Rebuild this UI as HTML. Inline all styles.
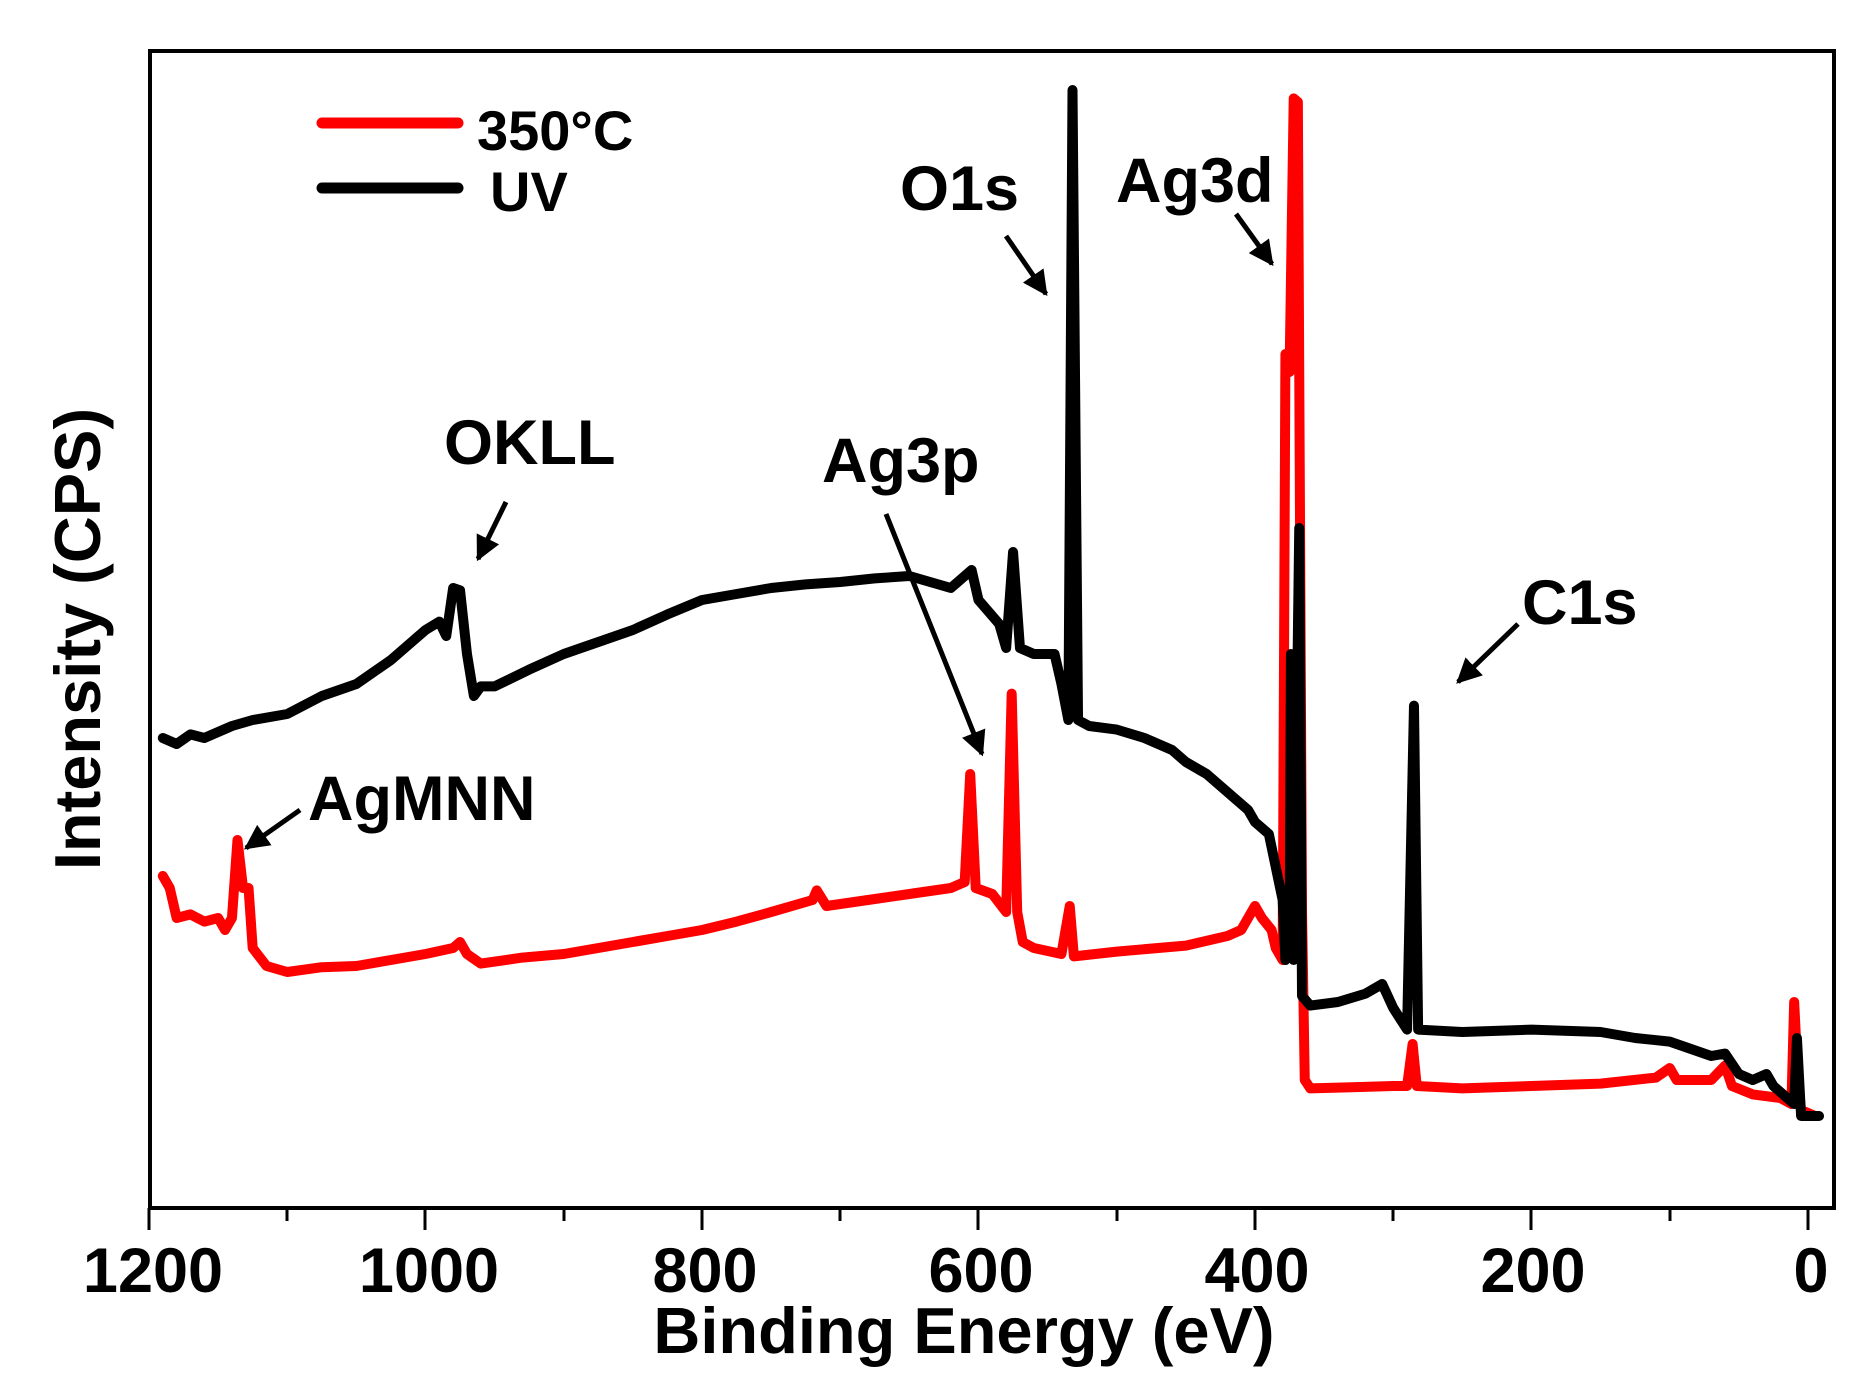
<!DOCTYPE html>
<html><head><meta charset="utf-8"><style>
html,body{margin:0;padding:0;background:#fff;}
svg text{font-family:"Liberation Sans",Arial,sans-serif;font-weight:bold;fill:#000;}
</style></head><body>
<svg width="1871" height="1384" viewBox="0 0 1871 1384" xmlns="http://www.w3.org/2000/svg">
<rect width="1871" height="1384" fill="#fff"/>
<g transform="translate(1808,0) scale(-1.3825,1.2)" fill="none" stroke-linejoin="round" stroke-linecap="round">
<polyline vector-effect="non-scaling-stroke" stroke="#ff0000" stroke-width="10" points="1190,730 1185,740 1180,765 1170,762 1160,768 1150,765 1145,775 1140,765 1136,700 1132,740 1128,740 1125,790 1115,805 1100,810 1075,806 1050,805 1025,800 1000,795 980,790 975,785 970,795 960,803 930,798 900,795 875,790 850,785 825,780 800,775 775,768 750,760 720,750 717,742 710,755 680,750 650,745 620,740 610,735 606,645 602,740 590,745 580,760 576,578 572,760 568,785 560,790 540,795 534,755 531,797 500,793 450,788 420,780 410,775 400,755 395,765 388,775 385,790 380,800 378,295 375,310 372,82 369,85 366,760 364,900 360,907 330,906 300,905 290,905 286,870 283,905 250,907 200,905 150,903 110,898 100,890 95,900 70,900 60,888 55,905 40,912 20,915 12,920 10,835 7,905 5,925 -5,930"/>
<polyline vector-effect="non-scaling-stroke" stroke="#000" stroke-width="10" points="1190,615 1180,620 1170,612 1160,615 1150,610 1140,605 1125,600 1100,595 1075,580 1050,570 1025,550 1010,535 1000,525 990,518 985,530 980,490 975,492 970,545 965,580 960,572 950,572 925,558 900,545 875,535 850,525 825,512 800,500 775,495 750,490 725,487 700,485 675,482 650,480 620,490 605,475 600,500 585,520 580,540 575,460 570,540 560,545 545,545 540,570 535,600 532,75 528,600 520,605 500,608 480,615 460,625 450,635 435,645 420,660 405,675 400,685 390,695 380,750 378,800 375,790 374,545 372,800 368,440 366,830 360,838 340,835 320,828 308,820 300,840 290,858 285,588 282,858 250,860 200,858 150,860 125,865 100,868 70,880 60,878 50,895 40,900 30,895 25,905 15,915 10,920 8,865 5,930 -8,930"/>
</g>
<rect x="150" y="51" width="1684" height="1157" fill="none" stroke="#000" stroke-width="4"/>
<g stroke="#000" stroke-width="3">
<line x1="149" y1="1208" x2="149" y2="1230"/><line x1="425" y1="1208" x2="425" y2="1230"/>
<line x1="702" y1="1208" x2="702" y2="1230"/><line x1="978" y1="1208" x2="978" y2="1230"/>
<line x1="1255" y1="1208" x2="1255" y2="1230"/><line x1="1531" y1="1208" x2="1531" y2="1230"/>
<line x1="1808" y1="1208" x2="1808" y2="1230"/>
<line x1="287" y1="1208" x2="287" y2="1221"/><line x1="564" y1="1208" x2="564" y2="1221"/>
<line x1="840" y1="1208" x2="840" y2="1221"/><line x1="1117" y1="1208" x2="1117" y2="1221"/>
<line x1="1393" y1="1208" x2="1393" y2="1221"/><line x1="1670" y1="1208" x2="1670" y2="1221"/>
</g>
<g font-size="63" text-anchor="middle">
<text x="153" y="1292">1200</text><text x="429" y="1292">1000</text><text x="705" y="1292">800</text>
<text x="981" y="1292">600</text><text x="1257" y="1292">400</text><text x="1533" y="1292">200</text>
<text x="1811" y="1292">0</text>
</g>
<text x="964" y="1353" font-size="65" text-anchor="middle">Binding Energy (eV)</text>
<text transform="translate(100,639) rotate(-90)" font-size="65" text-anchor="middle">Intensity (CPS)</text>
<line x1="322" y1="123" x2="458" y2="123" stroke="#ff0000" stroke-width="11" stroke-linecap="round"/>
<line x1="322" y1="188" x2="458" y2="188" stroke="#000" stroke-width="11" stroke-linecap="round"/>
<text x="477" y="150" font-size="56">350°C</text>
<text x="490" y="211" font-size="56">UV</text>
<g font-size="63">
<text x="900" y="210">O1s</text>
<text x="1116" y="202">Ag3d</text>
<text x="444" y="464">OKLL</text>
<text x="822" y="482">Ag3p</text>
<text x="1522" y="624">C1s</text>
<text x="308" y="820">AgMNN</text>
</g>
<defs><marker id="ah" viewBox="0 0 10 10" refX="9" refY="5" markerWidth="5" markerHeight="5" orient="auto" markerUnits="strokeWidth"><path d="M0,0 L10,5 L0,10 z" fill="#000"/></marker></defs>
<g stroke="#000" stroke-width="5" marker-end="url(#ah)">
<line x1="1006" y1="236" x2="1046" y2="294"/>
<line x1="1236" y1="214" x2="1272" y2="264"/>
<line x1="506" y1="502" x2="478" y2="559"/>
<line x1="886" y1="514" x2="982" y2="754"/>
<line x1="1518" y1="624" x2="1458" y2="682"/>
<line x1="300" y1="810" x2="246" y2="848"/>
</g>
</svg>
</body></html>
